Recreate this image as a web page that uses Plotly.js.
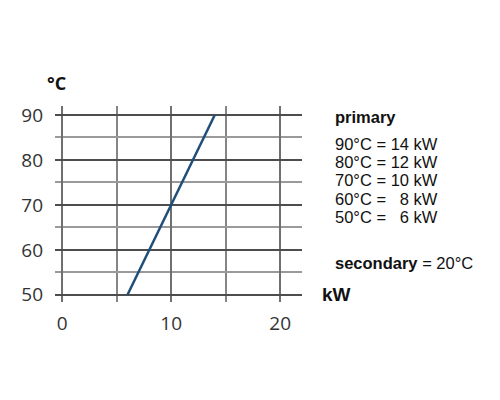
<!DOCTYPE html>
<html>
<head>
<meta charset="utf-8">
<script src="https://cdn.plot.ly/plotly-3.0.1.min.js"></script>
<style>html,body{margin:0;padding:0;background:#fff;}#chart{width:500px;height:400px;}</style>
</head>
<body>
<div id="chart"></div>
<script>
// Data
const powerKW = [6, 8, 10, 12, 14];
const primaryTempC = [50, 60, 70, 80, 90];
const secondaryTempC = 20;
const xTickVals = [0, 10, 20];
const yTickVals = [50, 60, 70, 80, 90];

const L = 55, R = 302, T = 106, B = 301.7;
const px2paperX = px => (px - L) / (R - L);
const px2paperY = py => (B - py) / (B - T);

const legendFont = {family: 'Liberation Sans, Arial, sans-serif', size: 16.5, color: '#111'};
const annotations = [
  {text: '<b>°C</b>', x: px2paperX(56), y: px2paperY(83), xref: 'paper', yref: 'paper', showarrow: false,
   font: {family: 'Open Sans, sans-serif', size: 18, color: '#111'}, xanchor: 'center', yanchor: 'middle'},
  {text: '<b>kW</b>', x: px2paperX(320), y: px2paperY(294), xref: 'paper', yref: 'paper', showarrow: false,
   font: {family: 'Liberation Sans, Arial, sans-serif', size: 19, color: '#111'}, xanchor: 'left', yanchor: 'middle'},
  {text: '<b>primary</b>', x: px2paperX(333), y: px2paperY(117), xref: 'paper', yref: 'paper', showarrow: false,
   font: legendFont, xanchor: 'left', yanchor: 'middle'},
  {text: '<b>secondary</b> = ' + secondaryTempC + '°C', x: px2paperX(333), y: px2paperY(263), xref: 'paper', yref: 'paper', showarrow: false,
   font: legendFont, xanchor: 'left', yanchor: 'middle'}
];
const rowsTemp = primaryTempC.slice().reverse();
const rowsKW = powerKW.slice().reverse();
rowsTemp.forEach((t, i) => {
  const k = rowsKW[i];
  const kStr = k < 10 ? '\u00a0\u00a0' + k : String(k);
  annotations.push({
    text: t + '°C = ' + kStr + ' kW', x: px2paperX(333), y: px2paperY(143.5 + i * 18.3),
    xref: 'paper', yref: 'paper', showarrow: false, font: legendFont, xanchor: 'left', yanchor: 'middle'
  });
});

const trace = {
  x: powerKW, y: primaryTempC, type: 'scatter', mode: 'lines',
  line: {color: '#1f4e79', width: 2.5}, hoverinfo: 'skip', showlegend: false
};

const layout = {
  width: 500, height: 400,
  margin: {l: L, r: 500 - R, t: T, b: 400 - B, pad: 0},
  paper_bgcolor: '#fff', plot_bgcolor: '#fff',
  showlegend: false,
  xaxis: {
    range: [-0.65, 22], tickmode: 'array', tickvals: xTickVals, ticks: '',
    showgrid: true, gridcolor: '#707070', gridwidth: 2.2, zeroline: false, showline: false,
    minor: {tickmode: 'array', tickvals: [5, 15], showgrid: true, gridcolor: '#858585', gridwidth: 2.2, ticks: ''},
    tickfont: {family: 'Open Sans, sans-serif', size: 19, color: '#333'},
    ticklabelstandoff: 8, fixedrange: true
  },
  yaxis: {
    range: [48.4, 92], tickmode: 'array', tickvals: yTickVals, ticks: '',
    showgrid: true, gridcolor: '#4d4d4d', gridwidth: 2.5, zeroline: false, showline: false,
    minor: {tickmode: 'array', tickvals: [55, 65, 75, 85], showgrid: true, gridcolor: '#9a9a9a', gridwidth: 2, ticks: ''},
    tickfont: {family: 'Open Sans, sans-serif', size: 19, color: '#333'},
    ticklabelstandoff: 11, fixedrange: true
  },
  annotations: annotations
};

Plotly.newPlot('chart', [trace], layout, {displayModeBar: false, staticPlot: true});
</script>
</body>
</html>
